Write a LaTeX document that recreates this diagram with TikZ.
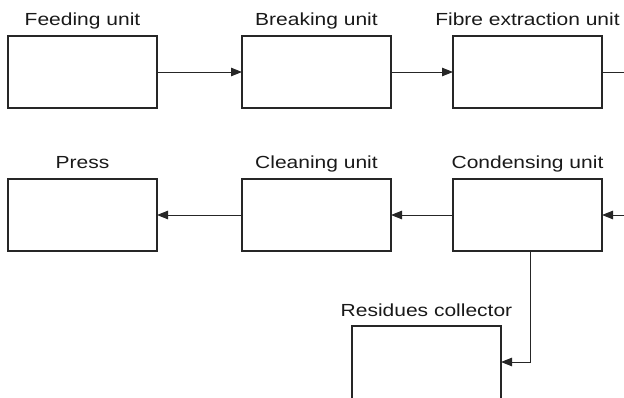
\documentclass[tikz,border=0pt]{standalone}
\usepackage{fontspec}
\setmainfont[FakeStretch=1.2]{Liberation Sans}
\usetikzlibrary{arrows.meta}
\begin{document}
\begin{tikzpicture}[x=1pt,y=-1pt,
  unitbox/.style={draw=black!85,line width=1.1pt,minimum width=149pt,minimum height=72pt,anchor=north west,inner sep=0pt,outer sep=0pt},
  lbl/.style={font=\fontsize{17.5}{20}\selectfont,anchor=base,inner sep=0pt,text=black!90},
  conn/.style={draw=black!85,line width=1pt,-{Triangle[length=11pt,width=8.5pt]}},
  plain/.style={draw=black!85,line width=1pt}]
\useasboundingbox (0,0) rectangle (624,397);
\clip (0,0) rectangle (624,397);
% row 1
\node[unitbox] (feed) at (8,36) {};
\node[unitbox] (break) at (242,36) {};
\node[unitbox] (fibre) at (453,36) {};
% row 2
\node[unitbox] (press) at (8,179) {};
\node[unitbox] (clean) at (242,179) {};
\node[unitbox] (cond) at (453,179) {};
% residues collector (cropped at bottom)
\node[unitbox,minimum height=110pt] (res) at (352,326) {};
% labels
\node[lbl] (lfeed) at (82.5,25) {Feeding unit};
\node[lbl] (lbreak) at (316.5,25) {Breaking unit};
\node[lbl] (lfibre) at (527.5,25) {Fibre extraction unit};
\node[lbl] (lpress) at (82.5,168) {Press};
\node[lbl] (lclean) at (316.5,168) {Cleaning unit};
\node[lbl] (lcond) at (527.5,168) {Condensing unit};
\node[lbl] (lres) at (426.5,316) {Residues collector};
% connectors
\coordinate (outR) at (630,72);
\coordinate (inR) at (630,215);
\coordinate (corner) at (530,362);
\draw[conn] (feed.east) -- (break.west);
\draw[conn] (break.east) -- (fibre.west);
\draw[plain] (fibre.east) -- (fibre.east -| outR);
\draw[conn] (cond.east -| inR) -- (cond.east);
\draw[conn] (cond.west) -- (clean.east);
\draw[conn] (clean.west) -- (press.east);
\draw[conn] (cond.south -| corner) -- (corner) -- (res.east |- corner);
\end{tikzpicture}
\end{document}
